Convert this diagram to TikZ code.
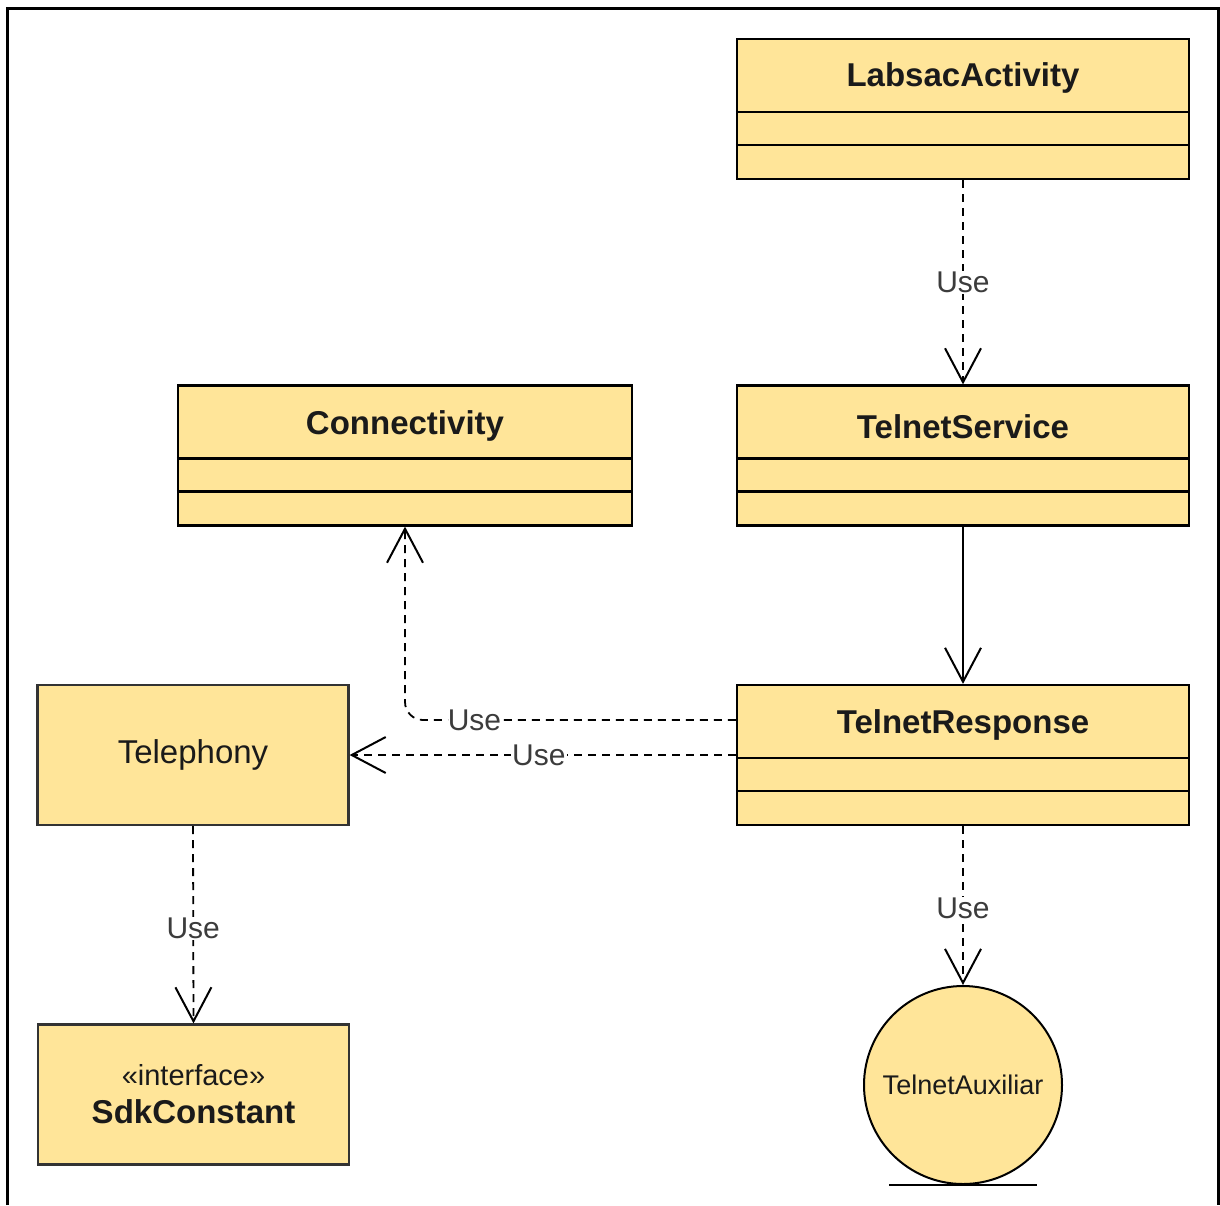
\documentclass[tikz,border=0pt]{standalone}
\usepackage{fontspec}
\setmainfont{Liberation Sans}
\usetikzlibrary{calc,arrows.meta}
\definecolor{clsfill}{HTML}{FFE599}
\definecolor{txt}{HTML}{1A1A1A}
\begin{document}
\begin{tikzpicture}[x=1pt,y=-1pt,
  cls/.style={draw=black,fill=clsfill,line width=2.2pt,rectangle,inner sep=0pt,
    minimum width=452pt,minimum height=140pt},
  plainbox/.style={draw=black!80,fill=clsfill,line width=2.2pt,rectangle,inner sep=0pt,
    minimum width=311pt,minimum height=140pt,align=center,text=txt},
  title/.style={font=\fontsize{33}{38}\selectfont\bfseries,text=txt,inner sep=0pt},
  uselbl/.style={font=\fontsize{30}{34}\selectfont,text=txt!85,fill=white,inner sep=1pt},
  dep/.style={line width=1.8pt,dash pattern=on 8pt off 6pt,
    -{Straight Barb[length=34pt,width=36pt,line width=2pt]}},
  assoc/.style={line width=1.8pt,-{Straight Barb[length=34pt,width=36pt,line width=2pt]}}]
\useasboundingbox (0,0) rectangle (1220,1205);
% outer frame, open at the bottom
\draw[line width=3pt] (7,1205) -- (7,8) -- (1218,8) -- (1218,1205);

% class boxes with three compartments
\node[cls] (la) at (963,109) {};
\node[cls] (ts) at (963,455.5) {};
\node[cls,minimum width=454pt] (co) at (405,455.5) {};
\node[cls] (tr) at (963,755) {};
\foreach \b in {la,ts,co,tr}{
  \draw[line width=2.2pt] ($(\b.north west)+(0,74)$) -- ($(\b.north east)+(0,74)$);
  \draw[line width=2.2pt] ($(\b.north west)+(0,107)$) -- ($(\b.north east)+(0,107)$);
}
\node[title] (laT) at ($(la.north)+(0,40)$) {LabsacActivity};
\node[title] (tsT) at ($(ts.north)+(0,42)$) {TelnetService};
\node[title] (coT) at ($(co.north)+(0,42)$) {Connectivity};
\node[title] (trT) at ($(tr.north)+(0,41)$) {TelnetResponse};

% simple boxes
\node[plainbox,font=\fontsize{33}{38}\selectfont] (tel) at (193,755) {Telephony};
\node[plainbox,font=\fontsize{31}{38}\selectfont] (sdk) at (193.5,1094.5)
  {{\fontsize{29}{34}\selectfont «interface»}\\{\fontsize{33}{38}\selectfont\bfseries SdkConstant}};

% utility object
\node[circle,draw=black,fill=clsfill,line width=2pt,minimum size=198pt,inner sep=0pt,
  font=\fontsize{27}{30}\selectfont,text=txt] (aux) at (963,1085) {TelnetAuxiliar};
\draw[line width=2.2pt] ($(aux.south)+(-74,0)$) -- ($(aux.south)+(74,0)$);

% relationships
\draw[dep] (la.south) -- node[uselbl] (u1) {Use} (ts.north);
\draw[assoc] (ts.south) -- (tr.north);
\coordinate (bend) at (405,720);
\draw[dep,rounded corners=18pt] (tr.west |- bend) -- node[uselbl,pos=0.79] (u2) {Use} (bend) -- (co.south);
\draw[dep] (tr.west |- tel.east) -- node[uselbl,pos=0.51] (u3) {Use} (tel.east);
\draw[dep] (tel.south) -- node[uselbl,pos=0.52] (u4) {Use} (sdk.north);
\draw[dep] (tr.south) -- node[uselbl,pos=0.52] (u5) {Use} (aux.north);
\end{tikzpicture}
\end{document}
